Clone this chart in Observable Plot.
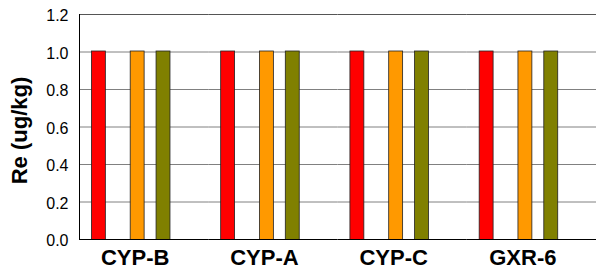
<!DOCTYPE html>
<html>
<head>
<meta charset="utf-8">
<script src="https://cdn.jsdelivr.net/npm/d3@7"></script>
<script src="https://cdn.jsdelivr.net/npm/@observablehq/plot@0.6"></script>
<style>
  html, body { margin: 0; padding: 0; background: #fff; }
</style>
</head>
<body>
<div id="chart"></div>
<script>
const categories = ["CYP-B", "CYP-A", "CYP-C", "GXR-6"];
const seriesNames = ["Series 1", "Series 2", "Series 3"];
const series1 = [1.0, 1.0, 1.0, 1.0];
const series2 = [1.0, 1.0, 1.0, 1.0];
const series3 = [1.0, 1.0, 1.0, 1.0];
const seriesColors = ["#FF0000", "#FF9900", "#808000"];
const yTicks = [0, 0.2, 0.4, 0.6, 0.8, 1.0, 1.2];
const yTitle = "Re (ug/kg)";

const allValues = [series1, series2, series3];
const data = [];
categories.forEach((c, i) => {
  seriesNames.forEach((s, j) => {
    data.push({category: c, series: s, value: allValues[j][i]});
  });
});

// slot layout within each category band (empty slots are unused positions)
const slotDomain = ["_a", seriesNames[0], "_b", "_c", seriesNames[1], "_d", seriesNames[2], "_e", "_f", "_g"];
const firstFacet = [{category: categories[0]}];

const chart = Plot.plot({
  width: 596,
  height: 275,
  marginLeft: 79,
  marginRight: 0,
  marginTop: 14,
  marginBottom: 36,
  style: {fontFamily: "Arial, 'Liberation Sans', sans-serif", color: "#000", background: "#fff"},
  fx: {domain: categories, padding: 0, round: false, label: null},
  x: {domain: slotDomain, padding: 0, round: false, axis: null},
  y: {domain: [0, 1.2]},
  color: {domain: seriesNames, range: seriesColors},
  marks: [
    Plot.gridY(yTicks.slice(1, -1), {stroke: "#808080", strokeOpacity: 1, strokeWidth: 1}),
    Plot.ruleY([1.2], {stroke: "#555", strokeWidth: 1}),
    Plot.barY(data, {fx: "category", x: "series", y: "value", fill: "series", stroke: "#222", strokeWidth: 0.8, inset: -0.5}),
    Plot.ruleY([0], {stroke: "#000", strokeWidth: 1}),
    Plot.ruleX(firstFacet, {fx: "category", x: () => slotDomain[0], dx: -6.46, stroke: "#000", strokeWidth: 1}),
    Plot.axisY({ticks: yTicks, tickFormat: d3.format(".1f"), tickSize: 0, tickPadding: 11, dy: 1.7, fontSize: 16, label: null, fill: "#000"}),
    Plot.text(firstFacet, {fx: "category", y: () => 0.6, text: () => yTitle, frameAnchor: "left", rotate: -90, dx: -60, dy: 3.5, lineAnchor: "middle", textAnchor: "middle", fontSize: 22, fontWeight: "bold", fill: "#000"}),
    Plot.axisFx({anchor: "bottom", tickSize: 0, tickPadding: 9.5, dx: -9, fontSize: 22, fontWeight: "bold", label: null, fill: "#000"})
  ]
});
document.getElementById("chart").appendChild(chart);
</script>
</body>
</html>
